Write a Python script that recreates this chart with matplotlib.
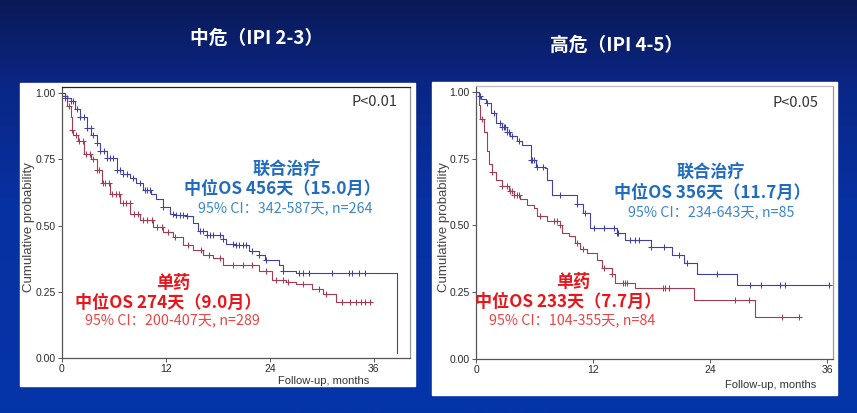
import numpy as np
import matplotlib
matplotlib.use("Agg")
import matplotlib.pyplot as plt
from matplotlib.colors import LinearSegmentedColormap

plt.rcParams['font.family'] = ['Noto Sans CJK SC', 'DejaVu Sans']

# ---------------- data ----------------
titles = ["中危（IPI 2-3）", "高危（IPI 4-5）"]
p_texts = ["P<0.01", "P<0.05"]
xticks = [0, 12, 24, 36]
yticks = [0.00, 0.25, 0.50, 0.75, 1.00]
ytick_labels = ["0.00", "0.25", "0.50", "0.75", "1.00"]
xlabel = "Follow-up, months"
ylabel = "Cumulative probability"

# Left panel: 联合治疗 (combination)
L_combo_t = [0, 0.3, 0.6, 1.0, 1.5, 2.1, 2.9, 3.4, 4.0, 4.4, 5.2, 6.3, 7.0, 7.9, 8.6, 9.4,
             10.3, 10.9, 11.7, 12.5, 13.2, 14.4, 15.1, 15.7, 16.7, 18.6, 19.0, 20.1, 21.6,
             22.8, 23.4, 25.1, 25.5, 27.0, 38.7]
L_combo_s = [1.0, 0.99, 0.98, 0.97, 0.94, 0.91, 0.87, 0.84, 0.81, 0.78, 0.755, 0.71, 0.695,
             0.68, 0.66, 0.635, 0.62, 0.60, 0.57, 0.545, 0.54, 0.535, 0.51, 0.48, 0.465, 0.45,
             0.43, 0.425, 0.405, 0.39, 0.37, 0.35, 0.33, 0.32, 0.02]
L_combo_cens = [0.3, 0.6, 1.0, 1.3, 1.7, 2.1, 2.5, 2.9, 3.3, 3.6, 4.0, 4.4, 4.8, 5.2, 5.5,
                5.9, 6.3, 6.7, 7.1, 7.5, 8.2, 9.0, 9.6, 9.8, 10.2, 11.7, 12.8, 13.2, 13.6,
                14.0, 14.4, 15.9, 16.3, 16.7, 17.1, 17.4, 18.2, 18.6, 19.7, 20.1, 20.5, 20.9,
                21.3, 22.0, 22.8, 23.6, 25.5, 27.4, 27.8, 28.5, 31.2, 33.1, 33.5, 34.3, 35.0]
# Left panel: 单药 (monotherapy)
L_mono_t = [0, 0.3, 0.6, 1.0, 1.15, 1.3, 1.9, 2.5, 3.3, 4.0, 4.6, 5.6, 6.7, 7.9, 9.0, 10.5,
            11.7, 12.8, 14.0, 15.1, 16.3, 17.4, 18.6, 22.8, 24.3, 25.9, 27.0, 28.9, 30.1,
            31.6, 35.8]
L_mono_s = [1.0, 0.98, 0.95, 0.91, 0.86, 0.84, 0.82, 0.77, 0.75, 0.71, 0.66, 0.62, 0.585,
            0.545, 0.52, 0.495, 0.477, 0.458, 0.426, 0.407, 0.388, 0.376, 0.35, 0.33, 0.294,
            0.288, 0.28, 0.262, 0.243, 0.212, 0.212]
L_mono_cens = [0.4, 0.8, 1.2, 1.6, 2.0, 2.4, 2.8, 3.2, 3.6, 4.0, 4.3, 4.7, 5.0, 5.4, 5.8,
               6.2, 6.6, 7.0, 7.4, 7.8, 8.3, 8.8, 9.3, 9.8, 10.4, 11.0, 11.6, 12.3, 13.1,
               14.5, 16.0, 17.0, 18.2, 19.8, 20.9, 22.0, 23.6, 24.7, 25.5, 26.1, 27.8, 29.7,
               30.5, 32.3, 33.3, 34.0, 34.5, 35.0, 35.6]

# Right panel: 联合治疗
R_combo_t = [0, 0.3, 0.5, 1.0, 1.5, 2.0, 2.7, 3.2, 3.5, 4.2, 4.7, 5.6, 6.1, 7.1, 7.3, 7.8,
             10.4, 11.0, 11.7, 14.5, 15.3, 17.9, 20.1, 21.3, 22.7, 26.8, 36.2]
R_combo_s = [1.0, 0.985, 0.975, 0.96, 0.92, 0.885, 0.87, 0.85, 0.835, 0.815, 0.80, 0.745,
             0.72, 0.715, 0.67, 0.615, 0.58, 0.545, 0.49, 0.47, 0.446, 0.42, 0.39, 0.36,
             0.3175, 0.278, 0.278]
R_combo_cens = [0.44, 1.13, 1.8, 2.5, 2.7, 2.85, 3.0, 3.2, 3.35, 3.7, 4.4, 5.6, 5.75, 5.9,
                6.3, 6.9, 8.6, 10.4, 11.2, 12.1, 13.1, 14.1, 14.5, 14.6, 15.8, 16.3, 16.7,
                17.9, 19.3, 20.8, 21.6, 24.7, 28.1, 29.2, 31.2, 31.7, 36.2]
# Right panel: 单药
R_mono_t = [0, 0.27, 0.44, 0.8, 1.1, 1.3, 1.6, 2.0, 2.7, 3.35, 3.9, 4.55, 5.2, 5.9, 6.3,
            7.3, 8.65, 8.8, 9.5, 10.2, 10.7, 11.4, 12.4, 12.9, 13.9, 14.3, 16.3, 22.3,
            28.6, 33.3]
R_mono_s = [1.0, 0.95, 0.90, 0.85, 0.78, 0.73, 0.70, 0.67, 0.646, 0.63, 0.615, 0.60, 0.578,
            0.565, 0.534, 0.515, 0.50, 0.47, 0.46, 0.434, 0.41, 0.396, 0.37, 0.34, 0.32,
            0.284, 0.265, 0.22, 0.159, 0.159]
R_mono_cens = [0.6, 1.6, 2.7, 3.2, 3.5, 3.7, 3.9, 4.2, 4.4, 6.6, 8.0, 8.3, 8.65, 10.4, 11.0,
               13.1, 13.9, 15.1, 15.3, 15.5, 19.2, 19.4, 19.8, 26.6, 28.0, 31.4, 33.1]

combo_name = "联合治疗"
mono_name = "单药"
combo_median = ["中位OS 456天（15.0月）", "中位OS 356天（11.7月）"]
combo_ci = ["95% CI：342-587天, n=264", "95% CI：234-643天, n=85"]
mono_median = ["中位OS 274天（9.0月）", "中位OS 233天（7.7月）"]
mono_ci = ["95% CI：200-407天, n=289", "95% CI：104-355天, n=84"]

# ---------------- style ----------------
W, H = 857, 413
C_COMBO_LINE = '#4040aa'
C_MONO_LINE = '#a63a52'
C_COMBO_TXT = '#1f6cc0'
C_COMBO_CI = '#3d86cc'
C_MONO_TXT = '#e8161b'
C_MONO_CI = '#e84545'
NARROW = ['Liberation Sans Narrow', 'Liberation Sans', 'DejaVu Sans']
BOLD_SIZE = 12.3
CI_SIZE = 10.3

fig = plt.figure(figsize=(W / 100, H / 100), dpi=100)

# background gradient
bg = fig.add_axes([0, 0, 1, 1])
bg.set_axis_off()
cmap = LinearSegmentedColormap.from_list('bg', [(0.0, '#0b1a57'), (0.22, '#0a2788'),
                                                (0.5, '#0731a2'), (1.0, '#0535aa')])
grad = np.linspace(0, 1, 256).reshape(-1, 1)
bg.imshow(grad, aspect='auto', cmap=cmap, extent=[0, 1, 0, 1], origin='upper')
bg.set_xlim(0, 1)
bg.set_ylim(0, 1)


def px_rect(x0, y0, x1, y1):
    """image pixel box (top-left origin) -> figure fraction rect"""
    return [x0 / W, (H - y1) / H, (x1 - x0) / W, (y1 - y0) / H]


# white panels
for r in [px_rect(20, 83, 415, 386), px_rect(432, 82, 837, 395)]:
    bg.add_patch(plt.Rectangle((r[0], r[1]), r[2], r[3], color='white', zorder=2))

# titles
bg.text(257 / W, 1 - 38 / H, titles[0], color='white', fontsize=13.5, ha='center',
        va='center', fontweight='bold', zorder=3)
bg.text(617 / W, 1 - 45 / H, titles[1], color='white', fontsize=13.5, ha='center',
        va='center', fontweight='bold', zorder=3)


def step_val(t, s, x):
    idx = np.searchsorted(np.asarray(t), np.asarray(x), side='right') - 1
    return np.asarray(s)[idx]


panels = [
    dict(rect=px_rect(62, 87, 410, 358), ylim=1.023, xlim=40.2,
         combo=(L_combo_t, L_combo_s, L_combo_cens), mono=(L_mono_t, L_mono_s, L_mono_cens),
         top_color='#222222',
         combo_pos=[(0.647, 0.694), (0.632, 0.624), (0.641, 0.554)],
         mono_pos=[(0.319, 0.277), (0.305, 0.203), (0.316, 0.140)],
         p_pos=(0.899, 0.945), xl_pos=(0.753, -0.085), yl_x=-0.079),
    dict(rect=px_rect(476, 86, 833, 359), ylim=1.022, xlim=36.6,
         combo=(R_combo_t, R_combo_s, R_combo_cens), mono=(R_mono_t, R_mono_s, R_mono_cens),
         top_color='#bbbbbb',
         combo_pos=[(0.658, 0.681), (0.661, 0.608), (0.658, 0.538)],
         mono_pos=[(0.272, 0.282), (0.258, 0.209), (0.269, 0.143)],
         p_pos=(0.894, 0.938), xl_pos=(0.824, -0.095), yl_x=-0.073),
]

for i, P in enumerate(panels):
    ax = fig.add_axes(P['rect'])
    ax.set_facecolor('white')
    ax.set_xlim(0, P['xlim'])
    ax.set_ylim(0, P['ylim'])
    for key, lc in [('mono', C_MONO_LINE), ('combo', C_COMBO_LINE)]:
        t, s, c = P[key]
        ax.step(t, s, where='post', color=lc, lw=0.8)
        ax.plot(c, step_val(t, s, c), ls='none', marker='+', ms=4, mew=0.75, color=lc)
    ax.spines['left'].set_color('#555555')
    ax.spines['bottom'].set_color('#555555')
    ax.spines['top'].set_color(P['top_color'])
    ax.spines['right'].set_color('#999999')
    for sp in ax.spines.values():
        sp.set_linewidth(0.9)
    ax.set_xticks(xticks)
    ax.set_xticklabels([str(v) for v in xticks], family=NARROW, fontsize=7.5, color='#2a2a2a')
    ax.set_yticks(yticks)
    ax.set_yticklabels(ytick_labels, family=NARROW, fontsize=7.5, color='#2a2a2a')
    ax.tick_params(direction='out', length=3, width=0.7, color='#555555', pad=1.5)
    ax.set_ylabel(ylabel, family=['Liberation Sans', 'DejaVu Sans'], fontsize=9.5,
                  color='#444444')
    ax.yaxis.set_label_coords(P['yl_x'], 0.483)
    ax.text(P['xl_pos'][0], P['xl_pos'][1], xlabel, transform=ax.transAxes, ha='center',
            va='center', family=NARROW, fontsize=8, color='#333333', clip_on=False)
    ax.text(P['p_pos'][0], P['p_pos'][1], p_texts[i], transform=ax.transAxes, ha='center',
            va='center', fontsize=10.5, color='#333333')
    cp = P['combo_pos']
    ax.text(*cp[0], combo_name, transform=ax.transAxes, ha='center', va='center',
            fontsize=BOLD_SIZE, fontweight='bold', color=C_COMBO_TXT)
    ax.text(*cp[1], combo_median[i], transform=ax.transAxes, ha='center', va='center',
            fontsize=BOLD_SIZE, fontweight='bold', color=C_COMBO_TXT)
    ax.text(*cp[2], combo_ci[i], transform=ax.transAxes, ha='center', va='center',
            fontsize=CI_SIZE, color=C_COMBO_CI)
    mp = P['mono_pos']
    ax.text(*mp[0], mono_name, transform=ax.transAxes, ha='center', va='center',
            fontsize=BOLD_SIZE, fontweight='bold', color=C_MONO_TXT)
    ax.text(*mp[1], mono_median[i], transform=ax.transAxes, ha='center', va='center',
            fontsize=BOLD_SIZE, fontweight='bold', color=C_MONO_TXT)
    ax.text(*mp[2], mono_ci[i], transform=ax.transAxes, ha='center', va='center',
            fontsize=CI_SIZE, color=C_MONO_CI)

fig.savefig('out.png', dpi=100)
